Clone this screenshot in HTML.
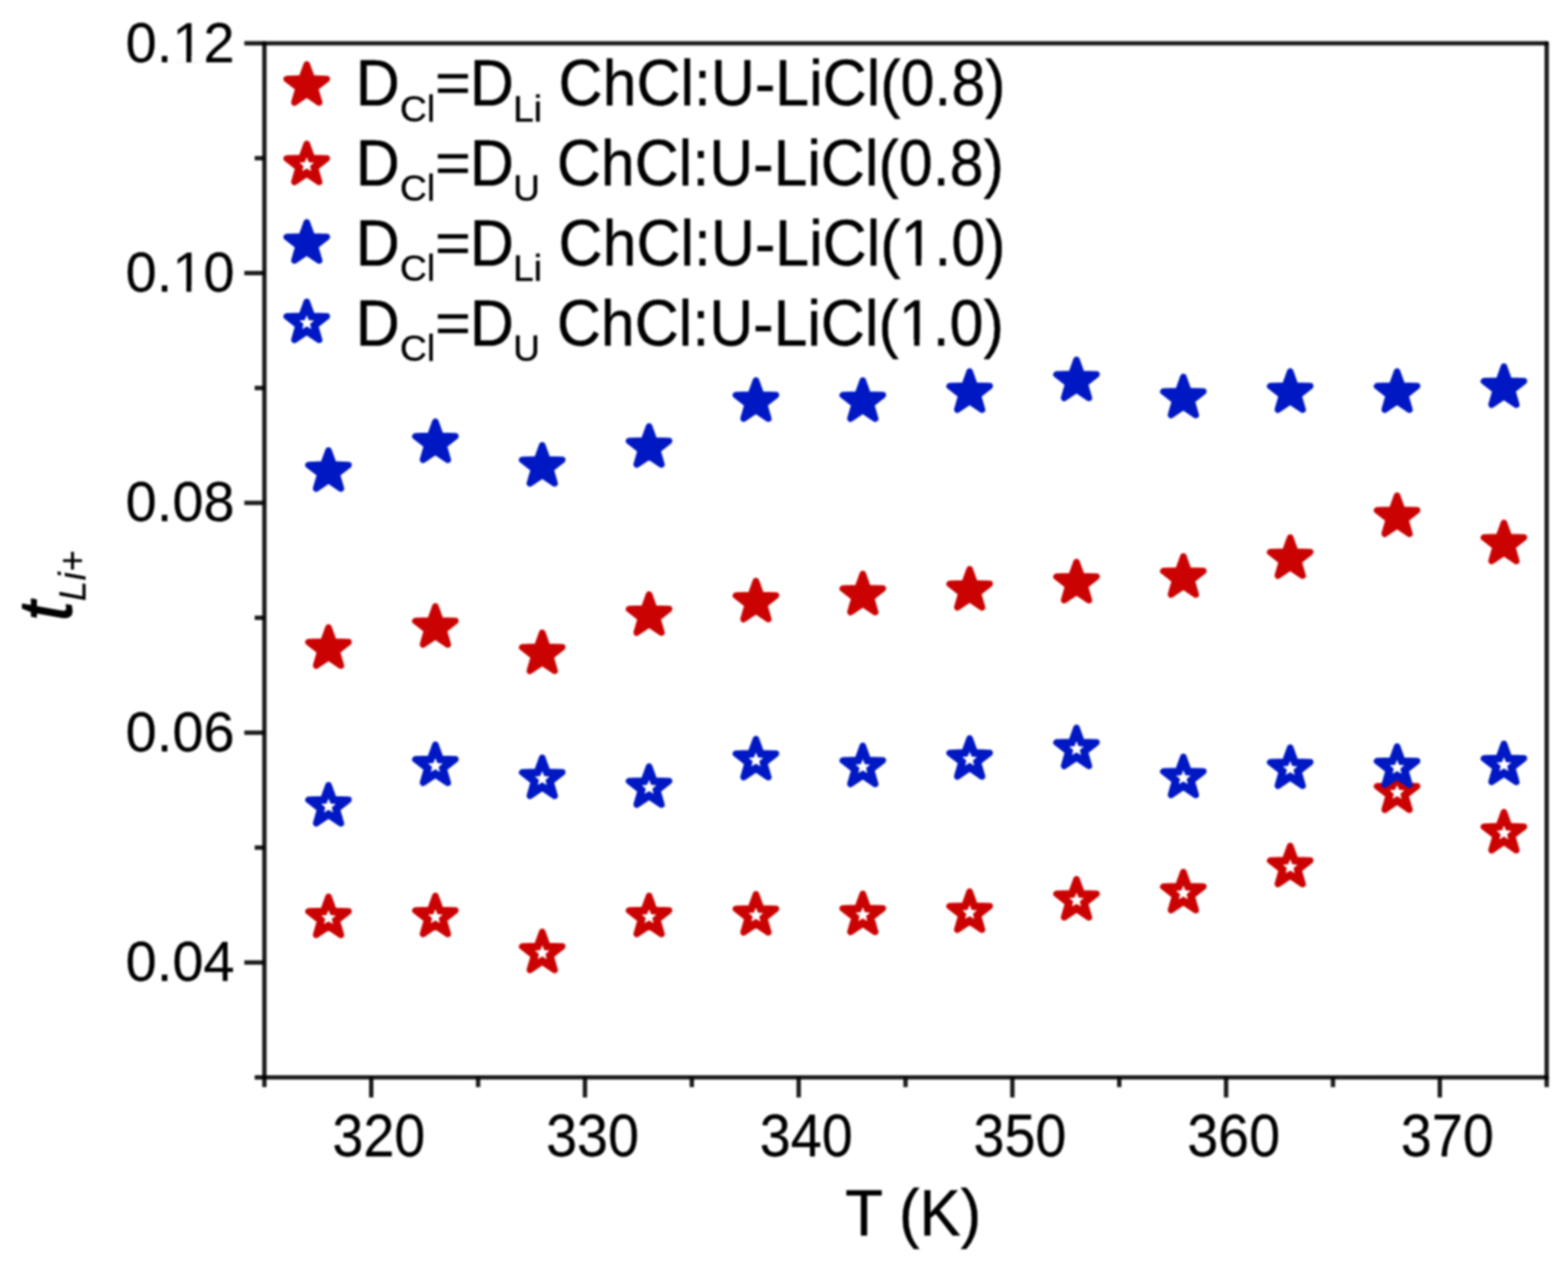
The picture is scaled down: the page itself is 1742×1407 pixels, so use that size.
<!DOCTYPE html>
<html lang="en"><head><meta charset="utf-8"><title>Li+ transference number vs temperature</title>
<style>html,body{margin:0;padding:0;background:#ffffff;}body{width:1742px;height:1407px;overflow:hidden;}svg{display:block;}text{font-family:"Liberation Sans", sans-serif;fill:#000000;stroke:#000000;stroke-width:0.45px;stroke-linejoin:round;}</style></head><body>
<svg width="1742" height="1407" viewBox="0 0 1742 1407" role="img" aria-label="Li+ transference number versus temperature">
<rect x="0" y="0" width="1742" height="1407" fill="#ffffff"/>
<filter id="soft" x="0" y="0" width="1742" height="1407" filterUnits="userSpaceOnUse" color-interpolation-filters="sRGB"><feGaussianBlur stdDeviation="1.25"/></filter>
<g filter="url(#soft)">
<rect x="0" y="0" width="1742" height="1407" fill="#ffffff"/>
<g id="series-red-filled">
<polygon points="364.98,697.45 370.60,713.05 387.18,713.58 374.08,723.76 378.70,739.69 364.98,730.37 351.25,739.69 355.87,723.76 342.77,713.58 359.35,713.05" fill="#cb0202" stroke="#cb0202" stroke-width="7.30" stroke-linejoin="round"/>
<polygon points="483.69,674.05 489.32,689.65 505.90,690.18 492.79,700.36 497.41,716.29 483.69,706.97 469.97,716.29 474.59,700.36 461.48,690.18 478.06,689.65" fill="#cb0202" stroke="#cb0202" stroke-width="7.30" stroke-linejoin="round"/>
<polygon points="602.40,703.35 608.03,718.95 624.61,719.48 611.51,729.66 616.13,745.59 602.40,736.27 588.68,745.59 593.30,729.66 580.20,719.48 596.78,718.95" fill="#cb0202" stroke="#cb0202" stroke-width="7.30" stroke-linejoin="round"/>
<polygon points="721.12,660.85 726.74,676.45 743.32,676.98 730.22,687.16 734.84,703.09 721.12,693.77 707.39,703.09 712.01,687.16 698.91,676.98 715.49,676.45" fill="#cb0202" stroke="#cb0202" stroke-width="7.30" stroke-linejoin="round"/>
<polygon points="839.83,645.85 845.45,661.45 862.03,661.98 848.93,672.16 853.55,688.09 839.83,678.77 826.10,688.09 830.72,672.16 817.62,661.98 834.20,661.45" fill="#cb0202" stroke="#cb0202" stroke-width="7.30" stroke-linejoin="round"/>
<polygon points="958.54,638.05 964.17,653.65 980.75,654.18 967.64,664.36 972.26,680.29 958.54,670.97 944.82,680.29 949.44,664.36 936.33,654.18 952.91,653.65" fill="#cb0202" stroke="#cb0202" stroke-width="7.30" stroke-linejoin="round"/>
<polygon points="1077.25,632.75 1082.88,648.35 1099.46,648.88 1086.36,659.06 1090.98,674.99 1077.25,665.67 1063.53,674.99 1068.15,659.06 1055.05,648.88 1071.63,648.35" fill="#cb0202" stroke="#cb0202" stroke-width="7.30" stroke-linejoin="round"/>
<polygon points="1195.96,624.75 1201.59,640.35 1218.17,640.88 1205.07,651.06 1209.69,666.99 1195.96,657.67 1182.24,666.99 1186.86,651.06 1173.76,640.88 1190.34,640.35" fill="#cb0202" stroke="#cb0202" stroke-width="7.30" stroke-linejoin="round"/>
<polygon points="1314.68,618.55 1320.30,634.15 1336.88,634.68 1323.78,644.86 1328.40,660.79 1314.68,651.47 1300.95,660.79 1305.57,644.86 1292.47,634.68 1309.05,634.15" fill="#cb0202" stroke="#cb0202" stroke-width="7.30" stroke-linejoin="round"/>
<polygon points="1433.39,597.55 1439.02,613.15 1455.60,613.68 1442.49,623.86 1447.11,639.79 1433.39,630.47 1419.67,639.79 1424.29,623.86 1411.18,613.68 1427.76,613.15" fill="#cb0202" stroke="#cb0202" stroke-width="7.30" stroke-linejoin="round"/>
<polygon points="1552.10,551.05 1557.73,566.65 1574.31,567.18 1561.21,577.36 1565.83,593.29 1552.10,583.97 1538.38,593.29 1543.00,577.36 1529.90,567.18 1546.48,566.65" fill="#cb0202" stroke="#cb0202" stroke-width="7.30" stroke-linejoin="round"/>
<polygon points="1670.82,581.25 1676.44,596.85 1693.02,597.38 1679.92,607.56 1684.54,623.49 1670.82,614.17 1657.09,623.49 1661.71,607.56 1648.61,597.38 1665.19,596.85" fill="#cb0202" stroke="#cb0202" stroke-width="7.30" stroke-linejoin="round"/>
</g><g id="series-red-open">
<polygon points="364.98,996.75 370.60,1012.35 387.18,1012.88 374.08,1023.06 378.70,1038.99 364.98,1029.67 351.25,1038.99 355.87,1023.06 342.77,1012.88 359.35,1012.35" fill="#cb0202" stroke="#cb0202" stroke-width="7.30" stroke-linejoin="round"/><polygon points="364.98,1011.50 367.25,1016.97 373.16,1017.44 368.66,1021.30 370.03,1027.06 364.98,1023.97 359.92,1027.06 361.30,1021.30 356.80,1017.44 362.70,1016.97" fill="#ffffff"/>
<polygon points="483.69,995.75 489.32,1011.35 505.90,1011.88 492.79,1022.06 497.41,1037.99 483.69,1028.67 469.97,1037.99 474.59,1022.06 461.48,1011.88 478.06,1011.35" fill="#cb0202" stroke="#cb0202" stroke-width="7.30" stroke-linejoin="round"/><polygon points="483.69,1010.50 485.96,1015.97 491.87,1016.44 487.37,1020.30 488.74,1026.06 483.69,1022.97 478.64,1026.06 480.01,1020.30 475.51,1016.44 481.42,1015.97" fill="#ffffff"/>
<polygon points="602.40,1035.75 608.03,1051.35 624.61,1051.88 611.51,1062.06 616.13,1077.99 602.40,1068.67 588.68,1077.99 593.30,1062.06 580.20,1051.88 596.78,1051.35" fill="#cb0202" stroke="#cb0202" stroke-width="7.30" stroke-linejoin="round"/><polygon points="602.40,1050.50 604.68,1055.97 610.58,1056.44 606.08,1060.30 607.46,1066.06 602.40,1062.97 597.35,1066.06 598.72,1060.30 594.22,1056.44 600.13,1055.97" fill="#ffffff"/>
<polygon points="721.12,995.75 726.74,1011.35 743.32,1011.88 730.22,1022.06 734.84,1037.99 721.12,1028.67 707.39,1037.99 712.01,1022.06 698.91,1011.88 715.49,1011.35" fill="#cb0202" stroke="#cb0202" stroke-width="7.30" stroke-linejoin="round"/><polygon points="721.12,1010.50 723.39,1015.97 729.29,1016.44 724.80,1020.30 726.17,1026.06 721.12,1022.97 716.06,1026.06 717.43,1020.30 712.94,1016.44 718.84,1015.97" fill="#ffffff"/>
<polygon points="839.83,993.95 845.45,1009.55 862.03,1010.08 848.93,1020.26 853.55,1036.19 839.83,1026.87 826.10,1036.19 830.72,1020.26 817.62,1010.08 834.20,1009.55" fill="#cb0202" stroke="#cb0202" stroke-width="7.30" stroke-linejoin="round"/><polygon points="839.83,1008.70 842.10,1014.17 848.01,1014.64 843.51,1018.50 844.88,1024.26 839.83,1021.17 834.77,1024.26 836.15,1018.50 831.65,1014.64 837.55,1014.17" fill="#ffffff"/>
<polygon points="958.54,993.45 964.17,1009.05 980.75,1009.58 967.64,1019.76 972.26,1035.69 958.54,1026.37 944.82,1035.69 949.44,1019.76 936.33,1009.58 952.91,1009.05" fill="#cb0202" stroke="#cb0202" stroke-width="7.30" stroke-linejoin="round"/><polygon points="958.54,1008.20 960.81,1013.67 966.72,1014.14 962.22,1018.00 963.59,1023.76 958.54,1020.67 953.49,1023.76 954.86,1018.00 950.36,1014.14 956.27,1013.67" fill="#ffffff"/>
<polygon points="1077.25,990.95 1082.88,1006.55 1099.46,1007.08 1086.36,1017.26 1090.98,1033.19 1077.25,1023.87 1063.53,1033.19 1068.15,1017.26 1055.05,1007.08 1071.63,1006.55" fill="#cb0202" stroke="#cb0202" stroke-width="7.30" stroke-linejoin="round"/><polygon points="1077.25,1005.70 1079.53,1011.17 1085.43,1011.64 1080.93,1015.50 1082.31,1021.26 1077.25,1018.17 1072.20,1021.26 1073.57,1015.50 1069.07,1011.64 1074.98,1011.17" fill="#ffffff"/>
<polygon points="1195.96,977.25 1201.59,992.85 1218.17,993.38 1205.07,1003.56 1209.69,1019.49 1195.96,1010.17 1182.24,1019.49 1186.86,1003.56 1173.76,993.38 1190.34,992.85" fill="#cb0202" stroke="#cb0202" stroke-width="7.30" stroke-linejoin="round"/><polygon points="1195.96,992.00 1198.24,997.47 1204.14,997.94 1199.65,1001.80 1201.02,1007.56 1195.96,1004.47 1190.91,1007.56 1192.28,1001.80 1187.79,997.94 1193.69,997.47" fill="#ffffff"/>
<polygon points="1314.68,969.25 1320.30,984.85 1336.88,985.38 1323.78,995.56 1328.40,1011.49 1314.68,1002.17 1300.95,1011.49 1305.57,995.56 1292.47,985.38 1309.05,984.85" fill="#cb0202" stroke="#cb0202" stroke-width="7.30" stroke-linejoin="round"/><polygon points="1314.68,984.00 1316.95,989.47 1322.86,989.94 1318.36,993.80 1319.73,999.56 1314.68,996.47 1309.62,999.56 1311.00,993.80 1306.50,989.94 1312.40,989.47" fill="#ffffff"/>
<polygon points="1433.39,940.25 1439.02,955.85 1455.60,956.38 1442.49,966.56 1447.11,982.49 1433.39,973.17 1419.67,982.49 1424.29,966.56 1411.18,956.38 1427.76,955.85" fill="#cb0202" stroke="#cb0202" stroke-width="7.30" stroke-linejoin="round"/><polygon points="1433.39,955.00 1435.66,960.47 1441.57,960.94 1437.07,964.80 1438.44,970.56 1433.39,967.47 1428.34,970.56 1429.71,964.80 1425.21,960.94 1431.12,960.47" fill="#ffffff"/>
<polygon points="1552.10,857.65 1557.73,873.25 1574.31,873.78 1561.21,883.96 1565.83,899.89 1552.10,890.57 1538.38,899.89 1543.00,883.96 1529.90,873.78 1546.48,873.25" fill="#cb0202" stroke="#cb0202" stroke-width="7.30" stroke-linejoin="round"/><polygon points="1552.10,872.40 1554.38,877.87 1560.28,878.34 1555.78,882.20 1557.16,887.96 1552.10,884.87 1547.05,887.96 1548.42,882.20 1543.92,878.34 1549.83,877.87" fill="#ffffff"/>
<polygon points="1670.82,902.65 1676.44,918.25 1693.02,918.78 1679.92,928.96 1684.54,944.89 1670.82,935.57 1657.09,944.89 1661.71,928.96 1648.61,918.78 1665.19,918.25" fill="#cb0202" stroke="#cb0202" stroke-width="7.30" stroke-linejoin="round"/><polygon points="1670.82,917.40 1673.09,922.87 1678.99,923.34 1674.50,927.20 1675.87,932.96 1670.82,929.87 1665.76,932.96 1667.13,927.20 1662.64,923.34 1668.54,922.87" fill="#ffffff"/>
</g><g id="series-blue-filled">
<polygon points="364.98,500.65 370.60,516.25 387.18,516.78 374.08,526.96 378.70,542.89 364.98,533.57 351.25,542.89 355.87,526.96 342.77,516.78 359.35,516.25" fill="#0018c4" stroke="#0018c4" stroke-width="7.30" stroke-linejoin="round"/>
<polygon points="483.69,468.75 489.32,484.35 505.90,484.88 492.79,495.06 497.41,510.99 483.69,501.67 469.97,510.99 474.59,495.06 461.48,484.88 478.06,484.35" fill="#0018c4" stroke="#0018c4" stroke-width="7.30" stroke-linejoin="round"/>
<polygon points="602.40,494.95 608.03,510.55 624.61,511.08 611.51,521.26 616.13,537.19 602.40,527.87 588.68,537.19 593.30,521.26 580.20,511.08 596.78,510.55" fill="#0018c4" stroke="#0018c4" stroke-width="7.30" stroke-linejoin="round"/>
<polygon points="721.12,473.95 726.74,489.55 743.32,490.08 730.22,500.26 734.84,516.19 721.12,506.87 707.39,516.19 712.01,500.26 698.91,490.08 715.49,489.55" fill="#0018c4" stroke="#0018c4" stroke-width="7.30" stroke-linejoin="round"/>
<polygon points="839.83,422.95 845.45,438.55 862.03,439.08 848.93,449.26 853.55,465.19 839.83,455.87 826.10,465.19 830.72,449.26 817.62,439.08 834.20,438.55" fill="#0018c4" stroke="#0018c4" stroke-width="7.30" stroke-linejoin="round"/>
<polygon points="958.54,423.05 964.17,438.65 980.75,439.18 967.64,449.36 972.26,465.29 958.54,455.97 944.82,465.29 949.44,449.36 936.33,439.18 952.91,438.65" fill="#0018c4" stroke="#0018c4" stroke-width="7.30" stroke-linejoin="round"/>
<polygon points="1077.25,413.05 1082.88,428.65 1099.46,429.18 1086.36,439.36 1090.98,455.29 1077.25,445.97 1063.53,455.29 1068.15,439.36 1055.05,429.18 1071.63,428.65" fill="#0018c4" stroke="#0018c4" stroke-width="7.30" stroke-linejoin="round"/>
<polygon points="1195.96,400.05 1201.59,415.65 1218.17,416.18 1205.07,426.36 1209.69,442.29 1195.96,432.97 1182.24,442.29 1186.86,426.36 1173.76,416.18 1190.34,415.65" fill="#0018c4" stroke="#0018c4" stroke-width="7.30" stroke-linejoin="round"/>
<polygon points="1314.68,419.05 1320.30,434.65 1336.88,435.18 1323.78,445.36 1328.40,461.29 1314.68,451.97 1300.95,461.29 1305.57,445.36 1292.47,435.18 1309.05,434.65" fill="#0018c4" stroke="#0018c4" stroke-width="7.30" stroke-linejoin="round"/>
<polygon points="1433.39,413.05 1439.02,428.65 1455.60,429.18 1442.49,439.36 1447.11,455.29 1433.39,445.97 1419.67,455.29 1424.29,439.36 1411.18,429.18 1427.76,428.65" fill="#0018c4" stroke="#0018c4" stroke-width="7.30" stroke-linejoin="round"/>
<polygon points="1552.10,413.05 1557.73,428.65 1574.31,429.18 1561.21,439.36 1565.83,455.29 1552.10,445.97 1538.38,455.29 1543.00,439.36 1529.90,429.18 1546.48,428.65" fill="#0018c4" stroke="#0018c4" stroke-width="7.30" stroke-linejoin="round"/>
<polygon points="1670.82,407.55 1676.44,423.15 1693.02,423.68 1679.92,433.86 1684.54,449.79 1670.82,440.47 1657.09,449.79 1661.71,433.86 1648.61,423.68 1665.19,423.15" fill="#0018c4" stroke="#0018c4" stroke-width="7.30" stroke-linejoin="round"/>
</g><g id="series-blue-open">
<polygon points="364.98,872.75 370.60,888.35 387.18,888.88 374.08,899.06 378.70,914.99 364.98,905.67 351.25,914.99 355.87,899.06 342.77,888.88 359.35,888.35" fill="#0018c4" stroke="#0018c4" stroke-width="7.30" stroke-linejoin="round"/><polygon points="364.98,887.50 367.25,892.97 373.16,893.44 368.66,897.30 370.03,903.06 364.98,899.97 359.92,903.06 361.30,897.30 356.80,893.44 362.70,892.97" fill="#ffffff"/>
<polygon points="483.69,827.75 489.32,843.35 505.90,843.88 492.79,854.06 497.41,869.99 483.69,860.67 469.97,869.99 474.59,854.06 461.48,843.88 478.06,843.35" fill="#0018c4" stroke="#0018c4" stroke-width="7.30" stroke-linejoin="round"/><polygon points="483.69,842.50 485.96,847.97 491.87,848.44 487.37,852.30 488.74,858.06 483.69,854.97 478.64,858.06 480.01,852.30 475.51,848.44 481.42,847.97" fill="#ffffff"/>
<polygon points="602.40,842.25 608.03,857.85 624.61,858.38 611.51,868.56 616.13,884.49 602.40,875.17 588.68,884.49 593.30,868.56 580.20,858.38 596.78,857.85" fill="#0018c4" stroke="#0018c4" stroke-width="7.30" stroke-linejoin="round"/><polygon points="602.40,857.00 604.68,862.47 610.58,862.94 606.08,866.80 607.46,872.56 602.40,869.47 597.35,872.56 598.72,866.80 594.22,862.94 600.13,862.47" fill="#ffffff"/>
<polygon points="721.12,851.95 726.74,867.55 743.32,868.08 730.22,878.26 734.84,894.19 721.12,884.87 707.39,894.19 712.01,878.26 698.91,868.08 715.49,867.55" fill="#0018c4" stroke="#0018c4" stroke-width="7.30" stroke-linejoin="round"/><polygon points="721.12,866.70 723.39,872.17 729.29,872.64 724.80,876.50 726.17,882.26 721.12,879.17 716.06,882.26 717.43,876.50 712.94,872.64 718.84,872.17" fill="#ffffff"/>
<polygon points="839.83,821.45 845.45,837.05 862.03,837.58 848.93,847.76 853.55,863.69 839.83,854.37 826.10,863.69 830.72,847.76 817.62,837.58 834.20,837.05" fill="#0018c4" stroke="#0018c4" stroke-width="7.30" stroke-linejoin="round"/><polygon points="839.83,836.20 842.10,841.67 848.01,842.14 843.51,846.00 844.88,851.76 839.83,848.67 834.77,851.76 836.15,846.00 831.65,842.14 837.55,841.67" fill="#ffffff"/>
<polygon points="958.54,829.05 964.17,844.65 980.75,845.18 967.64,855.36 972.26,871.29 958.54,861.97 944.82,871.29 949.44,855.36 936.33,845.18 952.91,844.65" fill="#0018c4" stroke="#0018c4" stroke-width="7.30" stroke-linejoin="round"/><polygon points="958.54,843.80 960.81,849.27 966.72,849.74 962.22,853.60 963.59,859.36 958.54,856.27 953.49,859.36 954.86,853.60 950.36,849.74 956.27,849.27" fill="#ffffff"/>
<polygon points="1077.25,820.65 1082.88,836.25 1099.46,836.78 1086.36,846.96 1090.98,862.89 1077.25,853.57 1063.53,862.89 1068.15,846.96 1055.05,836.78 1071.63,836.25" fill="#0018c4" stroke="#0018c4" stroke-width="7.30" stroke-linejoin="round"/><polygon points="1077.25,835.40 1079.53,840.87 1085.43,841.34 1080.93,845.20 1082.31,850.96 1077.25,847.87 1072.20,850.96 1073.57,845.20 1069.07,841.34 1074.98,840.87" fill="#ffffff"/>
<polygon points="1195.96,809.05 1201.59,824.65 1218.17,825.18 1205.07,835.36 1209.69,851.29 1195.96,841.97 1182.24,851.29 1186.86,835.36 1173.76,825.18 1190.34,824.65" fill="#0018c4" stroke="#0018c4" stroke-width="7.30" stroke-linejoin="round"/><polygon points="1195.96,823.80 1198.24,829.27 1204.14,829.74 1199.65,833.60 1201.02,839.36 1195.96,836.27 1190.91,839.36 1192.28,833.60 1187.79,829.74 1193.69,829.27" fill="#ffffff"/>
<polygon points="1314.68,841.25 1320.30,856.85 1336.88,857.38 1323.78,867.56 1328.40,883.49 1314.68,874.17 1300.95,883.49 1305.57,867.56 1292.47,857.38 1309.05,856.85" fill="#0018c4" stroke="#0018c4" stroke-width="7.30" stroke-linejoin="round"/><polygon points="1314.68,856.00 1316.95,861.47 1322.86,861.94 1318.36,865.80 1319.73,871.56 1314.68,868.47 1309.62,871.56 1311.00,865.80 1306.50,861.94 1312.40,861.47" fill="#ffffff"/>
<polygon points="1433.39,831.05 1439.02,846.65 1455.60,847.18 1442.49,857.36 1447.11,873.29 1433.39,863.97 1419.67,873.29 1424.29,857.36 1411.18,847.18 1427.76,846.65" fill="#0018c4" stroke="#0018c4" stroke-width="7.30" stroke-linejoin="round"/><polygon points="1433.39,845.80 1435.66,851.27 1441.57,851.74 1437.07,855.60 1438.44,861.36 1433.39,858.27 1428.34,861.36 1429.71,855.60 1425.21,851.74 1431.12,851.27" fill="#ffffff"/>
<polygon points="1552.10,829.75 1557.73,845.35 1574.31,845.88 1561.21,856.06 1565.83,871.99 1552.10,862.67 1538.38,871.99 1543.00,856.06 1529.90,845.88 1546.48,845.35" fill="#0018c4" stroke="#0018c4" stroke-width="7.30" stroke-linejoin="round"/><polygon points="1552.10,844.50 1554.38,849.97 1560.28,850.44 1555.78,854.30 1557.16,860.06 1552.10,856.97 1547.05,860.06 1548.42,854.30 1543.92,850.44 1549.83,849.97" fill="#ffffff"/>
<polygon points="1670.82,826.75 1676.44,842.35 1693.02,842.88 1679.92,853.06 1684.54,868.99 1670.82,859.67 1657.09,868.99 1661.71,853.06 1648.61,842.88 1665.19,842.35" fill="#0018c4" stroke="#0018c4" stroke-width="7.30" stroke-linejoin="round"/><polygon points="1670.82,841.50 1673.09,846.97 1678.99,847.44 1674.50,851.30 1675.87,857.06 1670.82,853.97 1665.76,857.06 1667.13,851.30 1662.64,847.44 1668.54,846.97" fill="#ffffff"/>
</g>
<g id="axes" stroke="#000000" stroke-opacity="0.89" stroke-width="4.90" fill="none" stroke-linecap="butt">
<line x1="293.75" y1="48.10" x2="1718.30" y2="48.10" stroke-linecap="round"/>
<line x1="293.75" y1="1197.40" x2="1718.30" y2="1197.40" stroke-linecap="round"/>
<line x1="293.75" y1="48.10" x2="293.75" y2="1197.40" stroke-linecap="round"/>
<line x1="1718.30" y1="48.10" x2="1718.30" y2="1197.40" stroke-linecap="round"/>
<line x1="293.75" y1="1197.40" x2="293.75" y2="1208.20"/>
<line x1="412.46" y1="1197.40" x2="412.46" y2="1219.70"/>
<line x1="531.17" y1="1197.40" x2="531.17" y2="1208.20"/>
<line x1="649.89" y1="1197.40" x2="649.89" y2="1219.70"/>
<line x1="768.60" y1="1197.40" x2="768.60" y2="1208.20"/>
<line x1="887.31" y1="1197.40" x2="887.31" y2="1219.70"/>
<line x1="1006.02" y1="1197.40" x2="1006.02" y2="1208.20"/>
<line x1="1124.74" y1="1197.40" x2="1124.74" y2="1219.70"/>
<line x1="1243.45" y1="1197.40" x2="1243.45" y2="1208.20"/>
<line x1="1362.16" y1="1197.40" x2="1362.16" y2="1219.70"/>
<line x1="1480.88" y1="1197.40" x2="1480.88" y2="1208.20"/>
<line x1="1599.59" y1="1197.40" x2="1599.59" y2="1219.70"/>
<line x1="1718.30" y1="1197.40" x2="1718.30" y2="1208.20"/>
<line x1="293.75" y1="1197.40" x2="282.95" y2="1197.40"/>
<line x1="293.75" y1="1069.70" x2="271.45" y2="1069.70"/>
<line x1="293.75" y1="942.00" x2="282.95" y2="942.00"/>
<line x1="293.75" y1="814.30" x2="271.45" y2="814.30"/>
<line x1="293.75" y1="686.60" x2="282.95" y2="686.60"/>
<line x1="293.75" y1="558.90" x2="271.45" y2="558.90"/>
<line x1="293.75" y1="431.20" x2="282.95" y2="431.20"/>
<line x1="293.75" y1="303.50" x2="271.45" y2="303.50"/>
<line x1="293.75" y1="175.80" x2="282.95" y2="175.80"/>
<line x1="293.75" y1="48.10" x2="271.45" y2="48.10"/>
</g>
<g id="xticklabels">
<g transform="translate(420.86,1285.20) scale(1,1.0700)"><text font-size="61.90" text-anchor="middle" style="stroke-width:0.25px">320</text></g>
<g transform="translate(658.29,1285.20) scale(1,1.0700)"><text font-size="61.90" text-anchor="middle" style="stroke-width:0.25px">330</text></g>
<g transform="translate(895.71,1285.20) scale(1,1.0700)"><text font-size="61.90" text-anchor="middle" style="stroke-width:0.25px">340</text></g>
<g transform="translate(1133.14,1285.20) scale(1,1.0700)"><text font-size="61.90" text-anchor="middle" style="stroke-width:0.25px">350</text></g>
<g transform="translate(1370.56,1285.20) scale(1,1.0700)"><text font-size="61.90" text-anchor="middle" style="stroke-width:0.25px">360</text></g>
<g transform="translate(1607.99,1285.20) scale(1,1.0700)"><text font-size="61.90" text-anchor="middle" style="stroke-width:0.25px">370</text></g>
</g>
<g id="yticklabels">
<g transform="translate(260.60,1090.10) scale(1,1.0200)"><text font-size="62.20" text-anchor="end" style="stroke-width:0.25px">0.04</text></g>
<g transform="translate(260.60,834.70) scale(1,1.0200)"><text font-size="62.20" text-anchor="end" style="stroke-width:0.25px">0.06</text></g>
<g transform="translate(260.60,579.30) scale(1,1.0200)"><text font-size="62.20" text-anchor="end" style="stroke-width:0.25px">0.08</text></g>
<g transform="translate(260.60,323.90) scale(1,1.0200)"><text font-size="62.20" text-anchor="end" style="stroke-width:0.25px">0.10</text><rect x="-66.70" y="-5.89" width="13.16" height="7.13" fill="#ffffff"/><rect x="-48.05" y="-5.89" width="12.76" height="7.13" fill="#ffffff"/></g>
<g transform="translate(260.60,68.50) scale(1,1.0200)"><text font-size="62.20" text-anchor="end" style="stroke-width:0.25px">0.12</text><rect x="-66.70" y="-5.89" width="13.16" height="7.13" fill="#ffffff"/><rect x="-48.05" y="-5.89" width="12.76" height="7.13" fill="#ffffff"/></g>
</g>
<g transform="translate(1014.50,1373.10) scale(1,1.0600)"><text font-size="68.50" text-anchor="middle">T (K)</text></g>
<g id="ytitle" font-style="italic"><text transform="translate(78.50,690.00) rotate(-90) scale(1,1.0700)" font-size="78.00" style="stroke-width:1.30px">t</text><text transform="translate(95.00,668.30) rotate(-90) scale(1,1.0270)" font-size="40.50" style="stroke-width:0.2px;letter-spacing:0.7px">Li+</text></g>
<g id="legend">
<polygon points="340.80,71.65 346.43,87.25 363.01,87.78 349.90,97.96 354.52,113.89 340.80,104.57 327.08,113.89 331.70,97.96 318.59,87.78 335.17,87.25" fill="#cb0202" stroke="#cb0202" stroke-width="7.30" stroke-linejoin="round"/>
<g class="legend-row"><g transform="translate(395.17,117.30) scale(1,1.0550)"><text font-size="67.70" text-anchor="start">D</text></g><g transform="translate(444.20,134.60) scale(1,1.0000)"><text font-size="41.50" text-anchor="start" style="stroke-width:0.4px">Cl</text></g><g transform="translate(483.45,114.45) scale(1,0.9250)"><text font-size="67.70" text-anchor="start" style="stroke-width:0.6px">=</text></g><g transform="translate(521.90,117.30) scale(1,1.0550)"><text font-size="67.70" text-anchor="start">D</text></g><g transform="translate(569.96,134.60) scale(1,1.0000)"><text font-size="41.50" text-anchor="start" style="stroke-width:0.4px">Li</text></g><g transform="translate(620.60,117.30) scale(1,1.0550)"><text font-size="67.70" text-anchor="start"> ChCl:U-LiCl(0.8)</text></g></g>
<polygon points="340.80,159.95 346.43,175.55 363.01,176.08 349.90,186.26 354.52,202.19 340.80,192.87 327.08,202.19 331.70,186.26 318.59,176.08 335.17,175.55" fill="#cb0202" stroke="#cb0202" stroke-width="7.30" stroke-linejoin="round"/><polygon points="340.80,174.70 343.07,180.17 348.98,180.64 344.48,184.50 345.85,190.26 340.80,187.17 335.75,190.26 337.12,184.50 332.62,180.64 338.53,180.17" fill="#ffffff"/>
<g class="legend-row"><g transform="translate(395.17,206.10) scale(1,1.0550)"><text font-size="67.70" text-anchor="start">D</text></g><g transform="translate(444.20,223.40) scale(1,1.0000)"><text font-size="41.50" text-anchor="start" style="stroke-width:0.4px">Cl</text></g><g transform="translate(483.45,203.25) scale(1,0.9250)"><text font-size="67.70" text-anchor="start" style="stroke-width:0.6px">=</text></g><g transform="translate(521.90,206.10) scale(1,1.0550)"><text font-size="67.70" text-anchor="start">D</text></g><g transform="translate(570.00,223.40) scale(1,1.0000)"><text font-size="41.50" text-anchor="start" style="stroke-width:0.4px">U</text></g><g transform="translate(618.70,206.10) scale(1,1.0550)"><text font-size="67.70" text-anchor="start"> ChCl:U-LiCl(0.8)</text></g></g>
<polygon points="340.80,247.25 346.43,262.85 363.01,263.38 349.90,273.56 354.52,289.49 340.80,280.17 327.08,289.49 331.70,273.56 318.59,263.38 335.17,262.85" fill="#0018c4" stroke="#0018c4" stroke-width="7.30" stroke-linejoin="round"/>
<g class="legend-row"><g transform="translate(395.17,295.05) scale(1,1.0550)"><text font-size="67.70" text-anchor="start">D</text></g><g transform="translate(444.20,312.35) scale(1,1.0000)"><text font-size="41.50" text-anchor="start" style="stroke-width:0.4px">Cl</text></g><g transform="translate(483.45,292.20) scale(1,0.9250)"><text font-size="67.70" text-anchor="start" style="stroke-width:0.6px">=</text></g><g transform="translate(521.90,295.05) scale(1,1.0550)"><text font-size="67.70" text-anchor="start">D</text></g><g transform="translate(569.96,312.35) scale(1,1.0000)"><text font-size="41.50" text-anchor="start" style="stroke-width:0.4px">Li</text></g><g transform="translate(620.60,295.05) scale(1,1.0550)"><text font-size="67.70" text-anchor="start"> ChCl:U-LiCl(1.0)</text><rect x="382.59" y="-6.41" width="14.32" height="7.77" fill="#ffffff"/><rect x="402.89" y="-6.41" width="13.89" height="7.77" fill="#ffffff"/></g></g>
<polygon points="340.80,335.45 346.43,351.05 363.01,351.58 349.90,361.76 354.52,377.69 340.80,368.37 327.08,377.69 331.70,361.76 318.59,351.58 335.17,351.05" fill="#0018c4" stroke="#0018c4" stroke-width="7.30" stroke-linejoin="round"/><polygon points="340.80,350.20 343.07,355.67 348.98,356.14 344.48,360.00 345.85,365.76 340.80,362.67 335.75,365.76 337.12,360.00 332.62,356.14 338.53,355.67" fill="#ffffff"/>
<g class="legend-row"><g transform="translate(395.17,384.00) scale(1,1.0550)"><text font-size="67.70" text-anchor="start">D</text></g><g transform="translate(444.20,401.30) scale(1,1.0000)"><text font-size="41.50" text-anchor="start" style="stroke-width:0.4px">Cl</text></g><g transform="translate(483.45,381.15) scale(1,0.9250)"><text font-size="67.70" text-anchor="start" style="stroke-width:0.6px">=</text></g><g transform="translate(521.90,384.00) scale(1,1.0550)"><text font-size="67.70" text-anchor="start">D</text></g><g transform="translate(570.00,401.30) scale(1,1.0000)"><text font-size="41.50" text-anchor="start" style="stroke-width:0.4px">U</text></g><g transform="translate(618.70,384.00) scale(1,1.0550)"><text font-size="67.70" text-anchor="start"> ChCl:U-LiCl(1.0)</text><rect x="382.59" y="-6.41" width="14.32" height="7.77" fill="#ffffff"/><rect x="402.89" y="-6.41" width="13.89" height="7.77" fill="#ffffff"/></g></g>
</g>
</g>
</svg></body></html>
